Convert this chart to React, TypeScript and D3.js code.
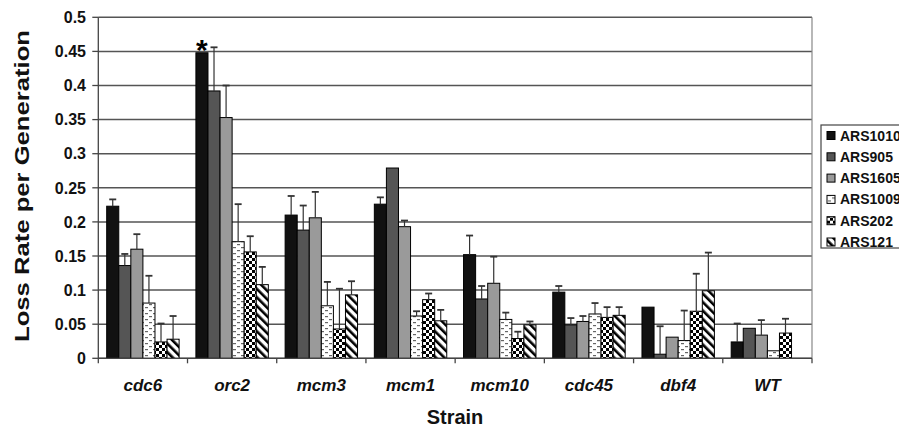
import * as d3 from "d3";

const strains = ["cdc6", "orc2", "mcm3", "mcm1", "mcm10", "cdc45", "dbf4", "WT"];
const origins = ["ARS1010", "ARS905", "ARS1605", "ARS1009", "ARS202", "ARS121"];

// loss rate per generation, one array per origin (in strain order)
const ars1010 = [0.223, 0.448, 0.21, 0.226, 0.152, 0.097, 0.075, 0.024];
const ars905 = [0.136, 0.392, 0.188, 0.279, 0.087, 0.049, 0.006, 0.044];
const ars1605 = [0.16, 0.353, 0.206, 0.193, 0.11, 0.054, 0.031, 0.034];
const ars1009 = [0.081, 0.171, 0.077, 0.062, 0.057, 0.065, 0.026, 0.011];
const ars202 = [0.024, 0.156, 0.043, 0.086, 0.029, 0.06, 0.069, 0.037];
const ars121 = [0.028, 0.108, 0.093, 0.055, 0.049, 0.063, 0.099, 0];

// upper error bars
const err1010 = [0.01, 0, 0.028, 0.01, 0.028, 0.009, 0, 0.027];
const err905 = [0.017, 0.064, 0.036, 0, 0.019, 0.01, 0.041, 0];
const err1605 = [0.022, 0.047, 0.038, 0.009, 0.039, 0.008, 0, 0.022];
const err1009 = [0.04, 0.055, 0.035, 0.007, 0.01, 0.016, 0.044, 0];
const err202 = [0.027, 0.023, 0.059, 0.009, 0.01, 0.015, 0.055, 0.021];
const err121 = [0.034, 0.026, 0.02, 0.016, 0.005, 0.012, 0.056, 0];

const yTicks = [0, 0.05, 0.1, 0.15, 0.2, 0.25, 0.3, 0.35, 0.4, 0.45, 0.5];

const values = [ars1010, ars905, ars1605, ars1009, ars202, ars121];
const errors = [err1010, err905, err1605, err1009, err202, err121];
const fills = ["#111", "#555", "#9a9a9a", "url(#pDash)", "url(#pCheck)", "url(#pDiag)"];

const font = "'Liberation Sans', Arial, Helvetica, sans-serif";

export default function App() {
  const left = 98.3;
  const right = 812;
  const top = 17.3;
  const bottom = 358.3;

  const x = d3.scaleBand<string>().domain(strains).range([left, right]).padding(0);
  const gap = 8.4;
  const x1 = d3
    .scaleBand<string>()
    .domain(origins)
    .range([gap, x.bandwidth() - gap])
    .padding(0);
  const y = d3.scaleLinear().domain([0, 0.5]).range([bottom, top]);

  const bars = [];
  origins.forEach((o, si) => {
    strains.forEach((s, ci) => {
      const v = values[si][ci];
      if (v <= 0) return;
      const bx = (x(s) as number) + (x1(o) as number);
      const bw = x1.bandwidth();
      bars.push(
        <rect
          key={o + s}
          x={bx}
          y={y(v)}
          width={bw}
          height={y(0) - y(v)}
          fill={fills[si]}
          stroke="#000"
          strokeWidth={1}
        />
      );
      const e = errors[si][ci];
      if (e > 0) {
        const cx = bx + bw / 2;
        bars.push(
          <g key={"e" + o + s} stroke="#333" strokeWidth={1.2}>
            <line x1={cx} x2={cx} y1={y(v)} y2={y(v + e)} />
            <line x1={cx - 3.5} x2={cx + 3.5} y1={y(v + e)} y2={y(v + e)} strokeWidth={1.8} />
          </g>
        );
      }
    });
  });

  const starX = (x("orc2") as number) + (x1("ARS1010") as number) + x1.bandwidth() / 2;

  return (
    <svg
      width={899}
      height={428}
      style={{ position: "absolute", left: 0, top: 0, background: "#fff" }}
      fontFamily={font}
    >
      <defs>
        <pattern id="pDash" width={8} height={6} patternUnits="userSpaceOnUse">
          <rect width={8} height={6} fill="#fff" />
          <rect x={1} y={1} width={3} height={1.2} fill="#666" />
          <rect x={5} y={4} width={3} height={1.2} fill="#666" />
        </pattern>
        <pattern id="pCheck" width={6} height={6} patternUnits="userSpaceOnUse">
          <rect width={6} height={6} fill="#fff" />
          <rect width={3} height={3} fill="#000" />
          <rect x={3} y={3} width={3} height={3} fill="#000" />
        </pattern>
        <pattern
          id="pDiag"
          width={6}
          height={6}
          patternUnits="userSpaceOnUse"
          patternTransform="rotate(-45)"
        >
          <rect width={6} height={6} fill="#fff" />
          <rect width={2.6} height={6} fill="#000" />
        </pattern>
      </defs>

      {/* gridlines */}
      {yTicks.map((t) => (
        <line key={t} x1={left} x2={right} y1={y(t)} y2={y(t)} stroke="#555" strokeWidth={1.5} />
      ))}
      <line x1={right} x2={right} y1={top} y2={bottom} stroke="#888" strokeWidth={1.2} />

      {bars}

      <text x={starX} y={60} textAnchor="middle" fontSize={30} fontWeight="bold">
        *
      </text>

      {/* y axis */}
      <line x1={left} x2={left} y1={top} y2={bottom} stroke="#444" strokeWidth={1.3} />
      {yTicks.map((t) => (
        <g key={"yt" + t}>
          <line x1={left - 6} x2={left} y1={y(t)} y2={y(t)} stroke="#444" strokeWidth={1.3} />
          <text
            x={86}
            y={y(t)}
            dy="0.36em"
            textAnchor="end"
            fontSize={16}
            fontWeight="bold"
            fill="#111"
          >
            {t}
          </text>
        </g>
      ))}

      {/* x axis */}
      <line x1={left} x2={right} y1={bottom} y2={bottom} stroke="#444" strokeWidth={1.3} />
      {strains.map((s) => (
        <line
          key={"xt" + s}
          x1={(x(s) as number) + x.bandwidth()}
          x2={(x(s) as number) + x.bandwidth()}
          y1={bottom}
          y2={bottom + 5}
          stroke="#444"
          strokeWidth={1.3}
        />
      ))}
      <line x1={left} x2={left} y1={bottom} y2={bottom + 5} stroke="#444" strokeWidth={1.3} />
      {strains.map((s) => (
        <text
          key={"xl" + s}
          x={(x(s) as number) + x.bandwidth() / 2}
          y={391}
          textAnchor="middle"
          fontSize={17}
          fontWeight="bold"
          fontStyle="italic"
          fill="#111"
        >
          {s}
        </text>
      ))}

      <text x={455} y={424} textAnchor="middle" fontSize={20} fontWeight="bold" fill="#111">
        Strain
      </text>
      <text
        transform="translate(29,186) rotate(-90)"
        textAnchor="middle"
        fontSize={20}
        fontWeight="bold"
        fill="#111"
        textLength={312}
        lengthAdjust="spacingAndGlyphs"
      >
        Loss Rate per Generation
      </text>

      {/* legend */}
      <rect x={821} y={125} width={100} height={123} fill="#fff" stroke="#444" strokeWidth={1.2} />
      {origins.map((o, i) => (
        <g key={"lg" + o} transform={`translate(827,${135.5 + i * 21.3})`}>
          <rect x={0} y={-4} width={8} height={8} fill={fills[i]} stroke="#000" strokeWidth={1} />
          <text x={13} y={0} dy="0.36em" fontSize={14} fontWeight="bold" fill="#111">
            {o}
          </text>
        </g>
      ))}
    </svg>
  );
}
